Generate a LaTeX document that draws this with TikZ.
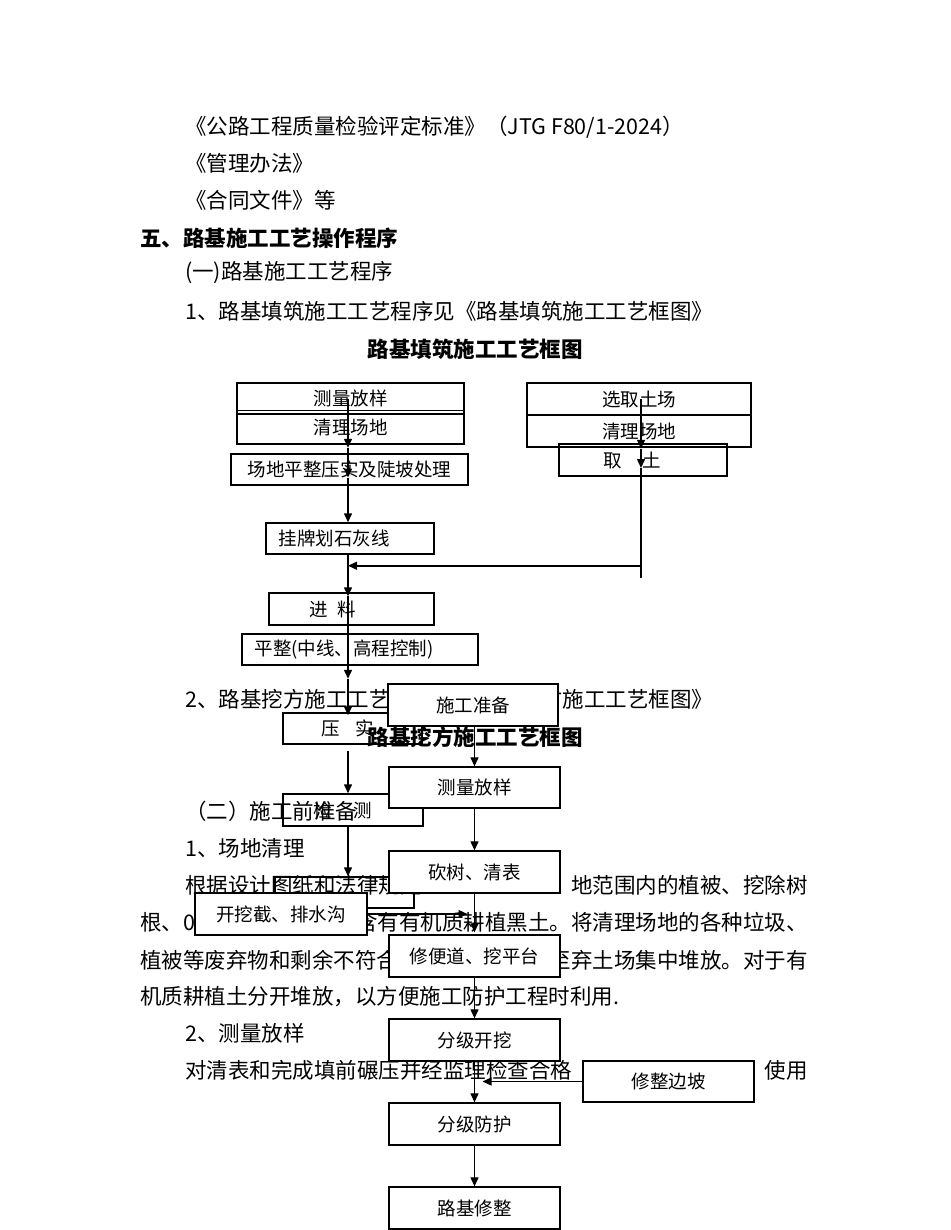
\documentclass[tikz,border=0pt]{standalone}
\usepackage{fontspec}
\setmainfont{Noto Sans CJK SC}
\usetikzlibrary{arrows.meta,calc}
\newcommand\txtsize{\fontsize{21.5}{25}\selectfont}
\newcommand\bxsize{\fontsize{18.5}{21}\selectfont}

\begin{document}
\begin{tikzpicture}[x=1pt,y=-1pt,
  txt/.style={inner sep=0pt,font=\txtsize},
  tbox/.style={draw,line width=1.5pt,inner sep=0pt,font=\bxsize},
  wbox/.style={tbox,line width=1.3pt,fill=white},
  arr/.style={-{Triangle[length=9pt,width=8pt]},line width=1.5pt},
  warr/.style={arr,line width=1.2pt}]
  \useasboundingbox[fill=white] (0,0) rectangle (950,1230);

  \node[txt,anchor=west] (ref1) at (185,127) {《公路工程质量检验评定标准》（JTG F80/1-2024）};
  \node[txt,anchor=west] (ref2) at (185,163) {《管理办法》};
  \node[txt,anchor=west] (ref3) at (185,200) {《合同文件》等};
  \node[txt,anchor=west,font=\txtsize\bfseries] (sec5) at (140,238) {五、路基施工工艺操作程序};
  \node[txt,anchor=west] (sub1) at (185,273) {(一)路基施工工艺程序};
  \node[txt,anchor=west] (item1) at (185,311) {1、路基填筑施工工艺程序见《路基填筑施工工艺框图》};
  \node[txt,font=\txtsize\bfseries] (title1) at (475,349) {路基填筑施工工艺框图};
  \node[txt,anchor=west] (item2) at (185,699) {2、路基挖方施工工艺程序见《路基挖方施工工艺框图》};
  \node[txt,anchor=west] (sub2) at (185,811) {（二）施工前准备};
  \node[txt,anchor=west] (clean) at (185,848) {1、场地清理};
  \node[txt,anchor=west] (para1a) at (185,885) {根据设计图纸和法律规定};
  \node[txt,anchor=east] (para1b) at (808,885) {地范围内的植被、挖除树};
  \node[txt,anchor=west] (para2a) at (140,922) {根、0.3m};
  \node[txt,anchor=east] (para2b) at (808,922) {含有有机质耕植黑土。将清理场地的各种垃圾、};
  \node[txt,anchor=west] (para3a) at (140,960) {植被等废弃物和剩余不符合};
  \node[txt,anchor=east] (para3b) at (808,960) {至弃土场集中堆放。对于有};
  \node[txt,anchor=west] (para4) at (140,997) {机质耕植土分开堆放，以方便施工防护工程时利用.};
  \node[txt,anchor=west] (survey) at (185,1033) {2、测量放样};
  \node[txt,anchor=west] (para5a) at (185,1070) {对清表和完成填前碾压并经监理检查合格};
  \node[txt,anchor=east] (para5b) at (808,1070) {使用};

  \coordinate (lcol) at (348,0);
  \coordinate (rcol) at (641,0);
  \node[tbox,minimum width=227pt,minimum height=31pt] (celiang) at (350.5,398.5) {测量放样};
  \node[tbox,minimum width=227pt,minimum height=33.5pt] (qingli) at (350.5,427.25) {清理场地};
  \node[tbox,minimum width=237pt,minimum height=31pt] (zhengping) at (349.5,469.5) {场地平整压实及陡坡处理};
  \node[tbox,minimum width=168pt,minimum height=31pt] (guapai) at (350,538.5) {挂牌划石灰线\hspace*{32pt}};
  \node[tbox,minimum width=165pt,minimum height=32pt] (jinliao) at (351.5,609) {进\hspace{10pt}料\hspace*{38pt}};
  \node[tbox,minimum width=236pt,minimum height=31pt] (pingzheng) at (360,649.5) {平整(中线、高程控制)\hspace*{32pt}};
  \node[tbox,minimum width=139pt,minimum height=31pt] (yashi) at (352.5,728.5) {压\hspace{16pt}实\hspace*{10pt}};
  \node[tbox,minimum width=140pt,minimum height=32pt] (jiance) at (353,810) {检\hspace{22pt}测\hspace*{21pt}};
  \node[tbox,minimum width=139pt,minimum height=31pt] (lastbox) at (344.5,892.5) {};
  \node[tbox,minimum width=224pt,minimum height=32pt] (xuanqu) at (639,399) {选取土场};
  \node[tbox,minimum width=224pt,minimum height=32pt] (qingli2) at (639,431) {清理场地};
  \node[tbox,minimum width=168pt,minimum height=32pt] (qutu) at (643,460) {取\hspace{21pt}土\hspace*{22pt}};

  \draw[arr] (lcol |- celiang) -- ($(lcol |- qingli.south)+(0,3)$);
  \draw[arr] ($(lcol |- qingli.south)+(0,3)$) -- ($(lcol |- zhengping)+(0,8)$);
  \draw[arr] ($(lcol |- zhengping)+(0,8)$) -- (lcol |- guapai.north);
  \draw[arr] (lcol |- guapai.south) -- ($(lcol |- jinliao.north)+(0,4)$);
  \draw[arr] ($(lcol |- jinliao.north)+(0,4)$) -- ($(lcol |- pingzheng.south)+(0,13)$);
  \draw[arr] ($(lcol |- pingzheng.south)+(0,13)$) -- ($(lcol |- yashi.north)+(0,3)$);
  \draw[arr] ($(lcol |- yashi.south)+(0,6)$) -- (lcol |- jiance.north);
  \draw[arr] (lcol |- jiance.south) -- (lcol |- lastbox.north);
  \draw[arr] (rcol |- xuanqu) -- ($(rcol |- qingli2.south)+(0,1)$);
  \draw[arr] ($(rcol |- qingli2.south)+(0,1)$) -- ($(rcol |- qutu)+(0,8)$);
  \coordinate (rturn) at ($(rcol |- qutu.south)+(0,89)$);
  \draw[line width=1.5pt] ($(rcol |- qutu)+(0,8)$) -- ($(rturn)+(0,12)$);
  \draw[arr] (rturn) -- (rturn -| lcol);

  \node[wbox,minimum width=170pt,minimum height=42pt] (zhunbei) at (473,705) {施工准备};
  \node[wbox,minimum width=171pt,minimum height=41pt] (celiang2) at (474.5,787.5) {测量放样};
  \node[wbox,minimum width=171pt,minimum height=42pt] (kanshu) at (474.5,872) {砍树、清表};
  \node[wbox,minimum width=171pt,minimum height=42pt] (biandao) at (474.5,956) {修便道、挖平台};
  \node[wbox,minimum width=171pt,minimum height=42pt] (kaiwa) at (474.5,1040) {分级开挖};
  \node[wbox,minimum width=171pt,minimum height=42pt] (fanghu) at (474.5,1124) {分级防护};
  \node[wbox,minimum width=171pt,minimum height=42pt] (xiuzheng) at (474.5,1208) {路基修整};
  \node[wbox,minimum width=171pt,minimum height=41pt] (bianpo) at (668.5,1081.5) {修整边坡};
  \node[wbox,minimum width=172pt,minimum height=42pt] (paishui) at (281,914) {开挖截、排水沟};

  \draw[warr] (celiang2.north |- zhunbei.south) -- (celiang2.north);
  \draw[warr] (celiang2) -- (kanshu.north);
  \draw[warr] (kanshu) -- ($(biandao.north)+(0,-2)$);
  \draw[warr] (biandao) -- (kaiwa.north);
  \draw[warr] (kaiwa) -- (fanghu.north);
  \draw[warr] (fanghu) -- (xiuzheng.north);
  \draw[warr,shorten >=8pt] (bianpo.west) -- (bianpo.west -| kaiwa.south);
  \draw[warr,shorten >=7pt] (paishui.east) -- (paishui.east -| kanshu.south);

  \node[txt,font=\txtsize\bfseries] (title2) at (475,737) {路基挖方施工工艺框图};
\end{tikzpicture}
\end{document}
